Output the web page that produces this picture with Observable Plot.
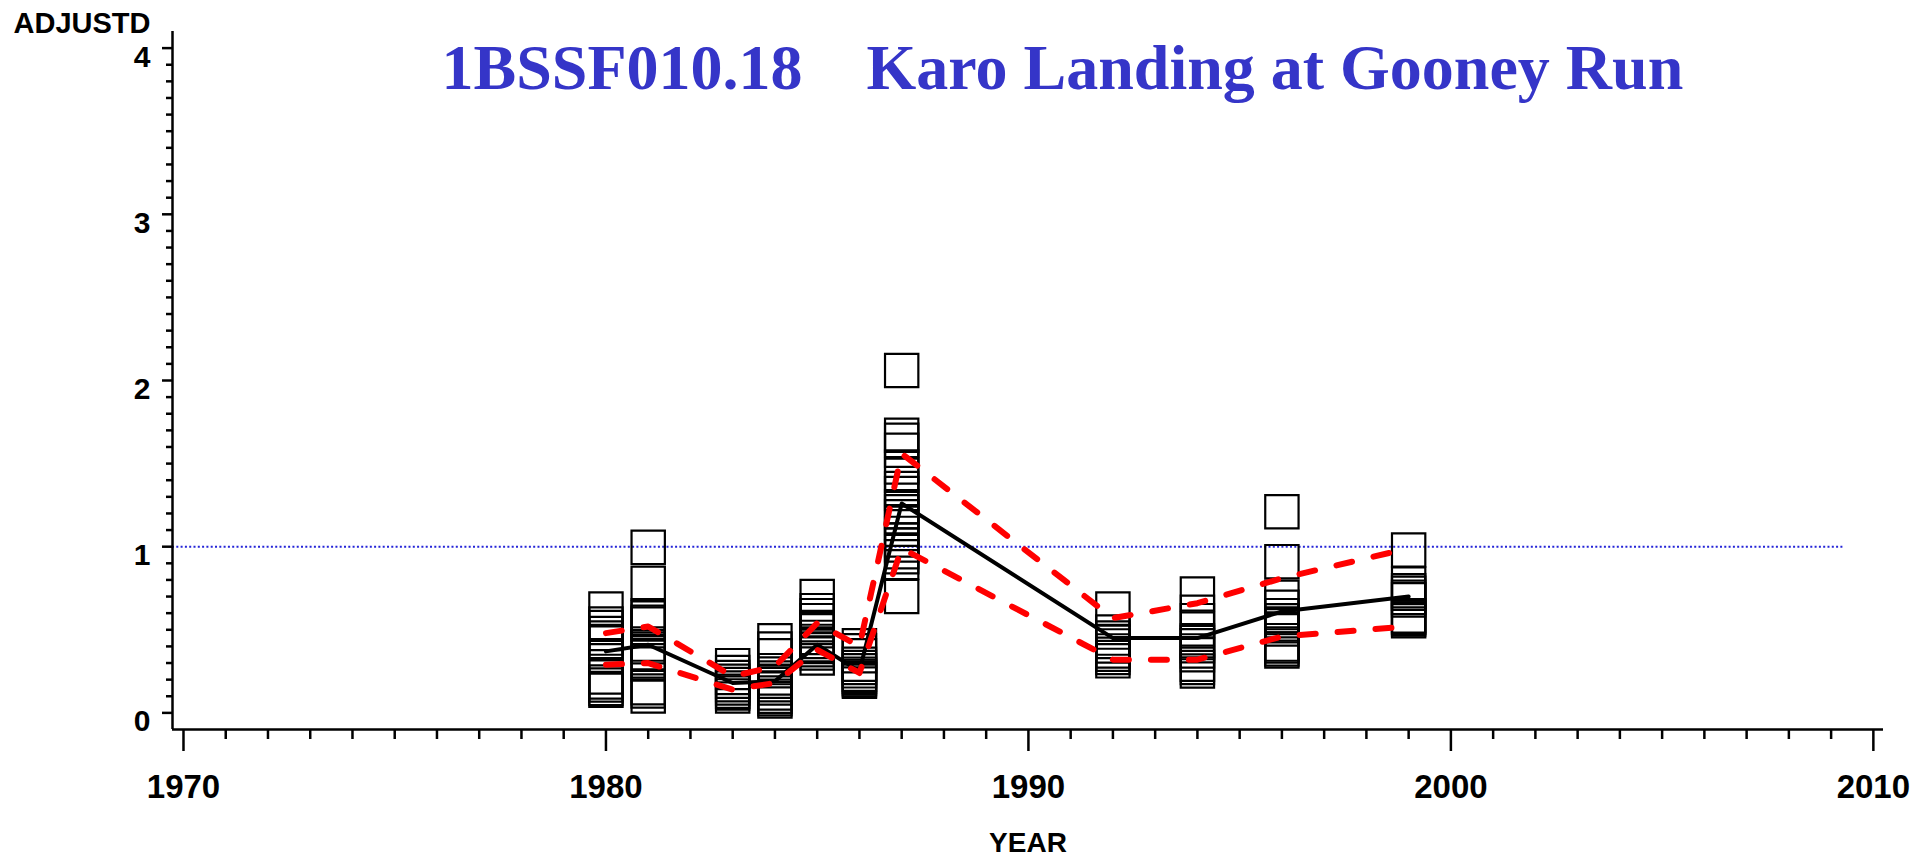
<!DOCTYPE html>
<html><head><meta charset="utf-8">
<script src="https://cdn.jsdelivr.net/npm/d3@7"></script>
<script src="https://cdn.jsdelivr.net/npm/@observablehq/plot@0.6"></script>
<style>
html,body{margin:0;padding:0;background:#fff;}
#chart svg{display:block;}
</style></head><body><div id="chart"></div>
<script>
// ---- text ----
const titleText = "1BSSF010.18\u00a0\u00a0\u00a0\u00a0Karo Landing at Gooney Run";
const yLabel = "ADJUSTD";
const xLabel = "YEAR";

// ---- summary series (per sampled year) ----
const years     = [1980, 1981, 1983, 1984, 1985, 1986, 1987, 1992, 1994, 1996, 1999];
const meanLine  = [0.37, 0.41, 0.18, 0.19, 0.41, 0.25, 1.26, 0.45, 0.45, 0.61, 0.70];
const upperBand = [0.48, 0.52, 0.22, 0.28, 0.54, 0.40, 1.56, 0.57, 0.66, 0.81, 0.99];
const lowerBand = [0.29, 0.30, 0.14, 0.18, 0.38, 0.24, 0.99, 0.32, 0.32, 0.46, 0.52];

// ---- individual observations ----
const obs1980 = [0.625, 0.534, 0.514, 0.478, 0.45, 0.43, 0.42, 0.344, 0.216, 0.186, 0.168, 0.147, 0.136];
const obs1981 = [0.996, 0.78, 0.585, 0.571, 0.545, 0.535, 0.414, 0.398, 0.362, 0.313, 0.294, 0.152, 0.132, 0.102];
const obs1983 = [0.284, 0.243, 0.213, 0.19, 0.17, 0.15, 0.13, 0.12, 0.102];
const obs1984 = [0.434, 0.384, 0.344, 0.254, 0.21, 0.19, 0.17, 0.15, 0.12, 0.10, 0.085, 0.072];
const obs1985 = [0.70, 0.615, 0.585, 0.555, 0.514, 0.494, 0.454, 0.43, 0.41, 0.40, 0.38, 0.36, 0.33];
const obs1986 = [0.404, 0.374, 0.344, 0.293, 0.273, 0.253, 0.233, 0.22, 0.21, 0.20, 0.19];
const obs1987 = [2.06, 1.67, 1.64, 1.58, 1.48, 1.43, 1.35, 1.32, 1.24, 1.21, 1.18, 1.14, 1.08, 1.04, 1.01, 0.97, 0.94, 0.905, 0.70];
const obs1992 = [0.625, 0.486, 0.45, 0.43, 0.403, 0.373, 0.353, 0.333, 0.313];
const obs1994 = [0.715, 0.605, 0.555, 0.505, 0.434, 0.423, 0.404, 0.373, 0.35, 0.293, 0.273, 0.252];
const obs1996 = [1.21, 0.91, 0.695, 0.635, 0.585, 0.554, 0.535, 0.524, 0.505, 0.414, 0.403, 0.384, 0.373];
const obs1999 = [0.98, 0.775, 0.735, 0.72, 0.695, 0.68, 0.584, 0.575, 0.565, 0.554];

// ---- axes / reference ----
const xTicks = [1970, 1980, 1990, 2000, 2010];
const yTicks = [0, 1, 2, 3, 4];
const xDomain = [1969.74, 2010.24];
const yDomain = [-0.1, 4.1];
const refValue = 1;
const refEnd = 2009.3;

// ---- build tables ----
const obsGroups = [[1980, obs1980], [1981, obs1981], [1983, obs1983], [1984, obs1984], [1985, obs1985],
  [1986, obs1986], [1987, obs1987], [1992, obs1992], [1994, obs1994], [1996, obs1996], [1999, obs1999]];
const observations = obsGroups.flatMap(([year, vals]) => vals.map(v => ({year, v})));
const summary = years.map((year, i) => ({year, mean: meanLine[i], upper: upperBand[i], lower: lowerBand[i]}));
const xMinor = d3.range(1970, 2011).filter(d => d % 10 !== 0);
const yMinor = d3.range(1, 40).filter(d => d % 10 !== 0).map(d => d / 10);

const sans = "'Liberation Sans', Arial, sans-serif";
const serif = "'Liberation Serif', 'Times New Roman', serif";

const chart = Plot.plot({
  width: 1931,
  height: 858,
  marginLeft: 172,
  marginRight: 48,
  marginTop: 31,
  marginBottom: 129,
  style: {fontFamily: sans, fontWeight: "bold", background: "#fff", color: "#000"},
  x: {domain: xDomain, label: null},
  y: {domain: yDomain, label: null},
  marks: [
    // reference line
    Plot.ruleY([refValue], {x1: xDomain[0], x2: refEnd, stroke: "#2424d8", strokeWidth: 2, strokeDasharray: "2,2.3"}),
    // observation squares
    Plot.dot(observations, {x: "year", y: "v", symbol: "square", r: 18.8, stroke: "#000", strokeWidth: 2.2, fill: "none"}),
    // mean line
    Plot.line(summary, {x: "year", y: "mean", stroke: "#000", strokeWidth: 4}),
    // bands
    Plot.line(summary, {x: "year", y: "upper", stroke: "#ff0000", strokeWidth: 6, strokeDasharray: "16,22"}),
    Plot.line(summary, {x: "year", y: "lower", stroke: "#ff0000", strokeWidth: 6, strokeDasharray: "16,22"}),
    // axis lines
    Plot.ruleY([yDomain[0]], {stroke: "#000", strokeWidth: 2.5}),
    Plot.ruleX([xDomain[0]], {stroke: "#000", strokeWidth: 2.5}),
    // x axis
    Plot.axisX({ticks: xTicks, tickSize: 22, tickPadding: 23, fontSize: 33, strokeWidth: 2.5, tickFormat: d => String(d), label: null}),
    Plot.axisX({ticks: xMinor, tickSize: 10, strokeWidth: 2.5, tickFormat: () => "", label: null}),
    // y axis
    Plot.axisY({ticks: yTicks, tickSize: 10, strokeWidth: 2.5, tickFormat: () => "", label: null}),
    Plot.axisY({ticks: yMinor, tickSize: 6, strokeWidth: 2.5, tickFormat: () => "", label: null}),
    Plot.axisY({ticks: yTicks, tickSize: 0, tickPadding: 22, fontSize: 30, dy: 9, tickFormat: d => String(d), label: null}),
    // labels and title
    Plot.text([yLabel], {text: d => d, frameAnchor: "top-left", lineAnchor: "middle", dx: -159, dy: -8, textAnchor: "start", fontSize: 29, fontWeight: "bold"}),
    Plot.text([xLabel], {text: d => d, frameAnchor: "bottom", lineAnchor: "middle", dy: 114, fontSize: 28, fontWeight: "bold"}),
    Plot.text([titleText], {text: d => d, frameAnchor: "top-left", lineAnchor: "middle", dx: 269, dy: 37, textAnchor: "start", fontSize: 64, fontFamily: serif, fontWeight: "bold", fill: "#3535c8"})
  ]
});
document.getElementById("chart").appendChild(chart);
</script>
</body></html>
